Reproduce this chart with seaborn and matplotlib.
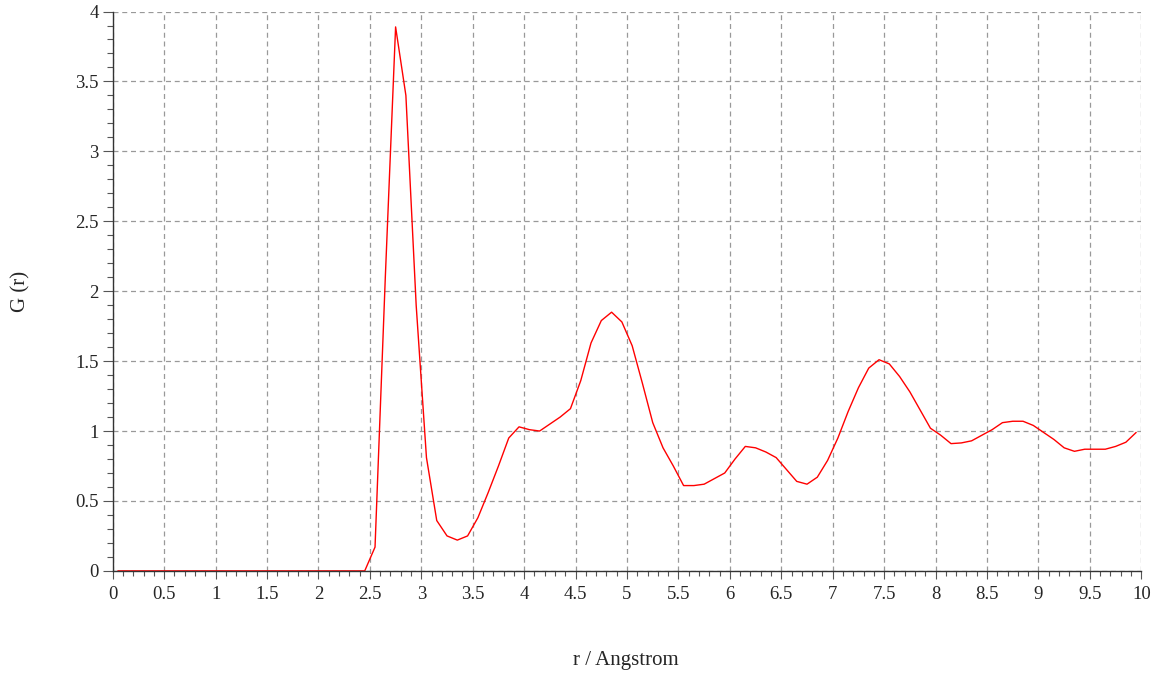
#!/usr/bin/env python3

import numpy as np
import pandas as pd
import matplotlib
matplotlib.use("Agg")
import matplotlib.pyplot as plt
from matplotlib.ticker import MultipleLocator
import seaborn as sns

# r values (Angstrom), sampled every 0.1 starting at 0.05
r_values = [round(0.05 + 0.1 * i, 2) for i in range(100)]

# G(r): zero up to 2.45, then the peaks
g_zero_part = [0.0] * 25  # 0.05 .. 2.45
g_peak_part = [
    0.17, 2.10, 3.89, 3.40, 1.90, 0.81, 0.36, 0.25, 0.22, 0.25,   # 2.55 - 3.45
    0.38, 0.56, 0.75, 0.95, 1.03, 1.01, 1.00, 1.05, 1.10, 1.16,   # 3.55 - 4.45
    1.36, 1.63, 1.79, 1.85, 1.78, 1.61, 1.34, 1.06, 0.88, 0.75,   # 4.55 - 5.45
    0.61, 0.61, 0.62, 0.66, 0.70, 0.80, 0.89, 0.88, 0.85, 0.81,   # 5.55 - 6.45
    0.725, 0.64, 0.62, 0.67, 0.79, 0.95, 1.14, 1.31, 1.45, 1.51,  # 6.55 - 7.45
    1.48, 1.39, 1.28, 1.15, 1.02, 0.97, 0.91, 0.915, 0.93, 0.97,  # 7.55 - 8.45
    1.01, 1.06, 1.07, 1.07, 1.04, 0.99, 0.94, 0.88, 0.855, 0.87,  # 8.55 - 9.45
    0.87, 0.87, 0.89, 0.92, 0.99,                                 # 9.55 - 9.95
]
g_values = g_zero_part + g_peak_part

x_label = "r / Angstrom"
y_label = "G (r)"


def main():
    df = pd.DataFrame({"r": r_values, "G": g_values})

    sns.set_style("white")
    plt.rcParams["font.family"] = ["Liberation Serif", "DejaVu Serif"]

    fig = plt.figure(figsize=(11.54, 6.78), dpi=100)
    ax = fig.add_axes([0.0977, 0.158, 0.8913, 0.825])

    sns.lineplot(data=df, x="r", y="G", color="red", linewidth=1.0, ax=ax)

    ax.set_xlim(0, 10)
    ax.set_ylim(0, 4)
    ax.xaxis.set_major_locator(MultipleLocator(0.5))
    ax.xaxis.set_minor_locator(MultipleLocator(0.1))
    ax.yaxis.set_major_locator(MultipleLocator(0.5))
    ax.yaxis.set_minor_locator(MultipleLocator(0.1))
    ax.xaxis.set_major_formatter(lambda v, p: f"{v:g}")
    ax.yaxis.set_major_formatter(lambda v, p: f"{v:g}")

    ax.grid(True, which="major", linestyle=(0, (4, 3)), color="#999999", linewidth=0.9)
    ax.set_axisbelow(True)

    for side in ["top", "right"]:
        ax.spines[side].set_visible(False)
    for side in ["left", "bottom"]:
        ax.spines[side].set_color("#333333")
        ax.spines[side].set_linewidth(1.0)

    ax.tick_params(axis="x", which="major", direction="out", length=6, width=0.8,
                   color="#555555", labelsize=13.5, pad=5, bottom=True)
    ax.tick_params(axis="x", which="minor", direction="out", length=3.5, width=0.8,
                   color="#555555", bottom=True)
    ax.tick_params(axis="y", which="major", direction="out", length=7, width=0.8,
                   color="#555555", labelsize=13.5, pad=3, left=True)
    ax.tick_params(axis="y", which="minor", direction="out", length=4, width=0.8,
                   color="#555555", left=True)

    ax.set_xlabel(x_label, fontsize=15)
    ax.set_ylabel(y_label, fontsize=15)
    ax.xaxis.set_label_coords(0.499, -0.143)
    ax.yaxis.set_label_coords(-0.080, 0.50)

    fig.savefig("out.png", dpi=100)
    plt.close(fig)


if __name__ == "__main__":
    main()
